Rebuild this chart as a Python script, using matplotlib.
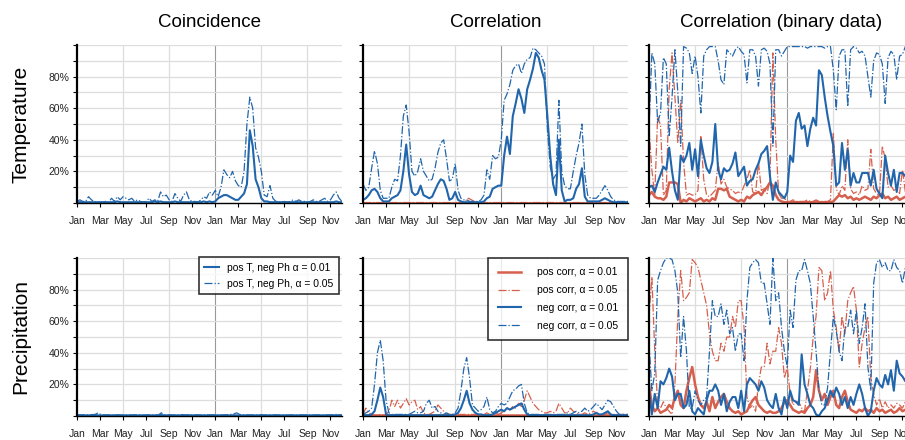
import numpy as np
import matplotlib
matplotlib.use("Agg")
import matplotlib.pyplot as plt

# ---------------- data (percent, sampled every quarter month, Jan yr1 .. Dec 1 yr2) ----------------
month_labels = ["Jan", "Mar", "May", "Jul", "Sep", "Nov", "Jan", "Mar", "May", "Jul", "Sep", "Nov"]
col_titles = ["Coincidence", "Correlation", "Correlation (binary data)"]
row_titles = ["Temperature", "Precipitation"]

# Coincidence / Temperature
coin_T_01 = [0.5,0.5,0.5,0.5, 0.5,0.5,0.5,0.5, 0.5,0.5,0.5,0.5, 0.5,0.5,1,0.5,
             0.5,0.5,0.5,0.5, 0.5,0.5,0.5,0.5, 0.5,0.5,0.5,1, 0.5,1,0.5,0.5,
             0.5,0.5,1,0.5, 0.5,0.5,0.5,0.5, 0.5,0.5,0.5,0.5, 1,0.5,1,0.5,
             1,3,4,5, 5,4,3,2, 2,4,6,12, 46,36,15,10, 3,1,1,0.5,
             0.5,0.5,0.5,0.5, 0.5,0.5,0.5,0.5, 0.5,0.5,0.5,0.5, 0.5,0.5,0.5,0.5,
             0.5,0.5,0.5,0.5, 0.5,0.5,1,0.5, 0.5]
coin_T_05 = [1,2,1,1, 4,2,1,0.5, 0.5,0.5,1,0.5, 3,1,4,2, 4,3,2,3, 1,2,1,0.5,
             1,3,1,2, 1,7,4,5, 2,1,6,3, 1,5,7,2, 1,1,0.5,2, 4,3,7,5,
             8,4,10,21, 18,16,20,14, 11,10,20,50, 67,60,35,29, 20,5,4,11,
             3,1,1,0.5, 1,0.5,1,2, 1,2,1,1, 0.5,1,2,1, 1,2,3,1, 2,5,7,3, 1]

# Coincidence / Precipitation
coin_P_01 = [0.4,0.4,0.5,0.4, 0.4,0.5,0.6,0.4, 0.4,0.4,0.4,0.4, 0.4,0.5,0.4,0.4,
             0.4,0.4,0.4,0.4, 0.4,0.4,0.4,0.4, 0.4,0.4,0.4,0.4, 0.6,0.4,0.4,0.4,
             0.4,0.4,0.4,0.4, 0.4,0.5,0.4,0.4, 0.4,0.4,0.4,0.4, 0.4,0.4,0.4,0.4,
             0.4,0.4,0.4,0.4, 0.5,0.4,0.4,0.4, 0.4,0.4,0.4,0.4, 0.4,0.4,0.4,0.4,
             0.4,0.4,0.4,0.4, 0.4,0.4,0.4,0.4, 0.4,0.4,0.4,0.4, 0.4,0.4,0.4,0.4,
             0.4,0.4,0.4,0.4, 0.4,0.4,0.4,0.5, 0.4]
coin_P_05 = [0.6,0.7,0.6,0.8, 0.7,0.9,1.0,2.0, 0.8,0.6,0.7,0.6, 0.6,0.7,0.6,0.6,
             0.7,0.6,0.6,0.7, 0.6,0.7,0.6,0.6, 0.7,0.6,0.7,0.6, 2.0,0.8,0.6,0.7,
             0.6,0.7,0.6,0.9, 0.6,0.7,0.6,0.6, 0.7,0.6,0.6,0.7, 0.6,0.7,0.6,0.6,
             0.6,0.7,0.8,1.0, 1.3,2.0,1.0,0.7, 0.6,0.7,0.6,0.7, 0.6,0.8,0.6,0.6,
             0.7,0.6,0.7,0.6, 0.6,0.7,0.6,0.6, 0.7,0.6,0.6,0.7, 0.6,0.7,0.6,0.6,
             0.7,0.6,0.6,0.7, 0.6,0.8,1.0,0.7, 0.6]

# Correlation / Temperature
corr_T_pos01 = [0.3] * 93
corr_T_pos05 = [0.3,0.3,0.3,0.3, 0.3,0.3,0.3,0.3, 0.3,0.3,0.3,0.3, 0.3,0.3,0.3,0.3,
                0.3,0.3,0.3,0.3, 0.3,0.3,0.3,0.3, 0.3,0.3,0.3,0.3, 0.3,0.3,0.3,0.3,
                0.3,0.3,1,3, 2,1,0.3,0.3, 0.3,0.3,0.3,0.3, 0.3,0.3,0.3,0.3,
                0.3,0.3,0.3,0.3, 0.3,0.3,0.3,0.3, 0.3,0.3,0.3,0.3, 0.3,0.3,0.3,0.3,
                0.3,0.3,0.3,0.3, 0.3,0.3,0.3,0.3, 0.3,0.3,0.3,0.3, 0.3,0.3,0.3,0.3,
                0.3,0.3,0.3,0.3, 0.3,0.3,0.3,0.3, 0.3]
corr_T_neg01 = [2,3,5,8, 9,7,3,1, 1,1,3,4, 5,8,20,37, 18,7,5,6, 11,5,4,3,
                4,8,12,15, 14,9,2,3, 7,2,1,0.5, 0.5,0.5,0.5,0.5, 0.5,0.5,1,3,
                4,9,10,11, 11,30,42,31, 55,63,72,66, 57,72,78,85, 95,92,84,78,
                55,30,12,5, 40,8,1,2, 2,3,9,12, 22,4,1,1, 1,1,1,2, 3,2,1,0.5,
                0.5,0.5,0.5,0.5, 0.5]
corr_T_neg05 = [12,8,10,22, 33,25,8,3, 3,3,10,15, 14,30,55,62, 45,20,17,20,
                28,20,17,14, 15,22,32,38, 40,28,14,15, 25,8,3,2, 2,1,1,1,
                1,2,5,21, 15,30,28,29, 40,65,69,75, 84,87,88,82, 88,91,92,98,
                97,95,93,88, 47,23,15,18, 65,20,11,9, 9,20,30,38, 50,18,5,3,
                3,3,5,8, 11,8,4,2, 1,1,1,1, 1]

# Correlation / Precipitation
corr_P_pos01 = [0.5] * 93
corr_P_pos05 = [1,5,2,1, 0.5,0.5,1,0.5, 1,3,10,6, 10,5,8,11, 7,9,10,4, 6,2,1,1,
                2,3,7,5, 3,1,1,1, 1,1,1,1, 1,1,1,1, 1,1,1,2, 1,1,2,1,
                2,3,5,4, 6,5,8,6, 10,16,12,8, 6,4,3,2, 2,3,2,3, 8,5,2,2,
                5,3,2,1, 1,2,1,2, 3,2,1,1, 1,2,1,1, 1,1,1,1, 1]
corr_P_neg01 = [0.5,0.5,0.5,1, 3,10,18,12, 1,0.5,0.5,0.5, 0.5,0.5,0.5,0.5,
                0.5,0.5,0.5,0.5, 0.5,0.5,0.5,0.5, 0.5,0.5,0.5,0.5, 0.5,0.5,0.5,0.5,
                1,2,5,10, 16,8,4,2, 1,1,0.5,0.5, 0.5,1,2,3, 4,3,5,4, 5,6,7,8,
                4,1,0.5,0.5, 0.5,0.5,0.5,0.5, 0.5,0.5,0.5,0.5, 0.5,0.5,0.5,0.5,
                0.5,0.5,0.5,0.5, 0.5,0.5,0.5,0.5, 1,2,1,1, 2,3,1,0.5,
                0.5,0.5,0.5,0.5, 0.5]
corr_P_neg05 = [1,2,3,5, 20,40,48,35, 10,2,1,1, 1,1,1,1, 1,2,3,2, 2,3,8,10,
                5,6,3,2, 1,2,1,1, 2,5,16,30, 37,24,7,5, 3,4,6,12, 4,2,3,6,
                8,7,8,12, 16,17,19,20, 8,2,1,1, 1,1,0.5,1, 1,1,1,1, 1,1,1,2,
                1,2,3,2, 3,5,3,4, 6,8,6,4, 7,10,9,6, 3,1,1,1, 1]

# Correlation (binary data) / Temperature
bin_T_pos01 = [5,7,4,3, 3,2,4,13, 13,13,12,0, 2,1,3,2, 1,2,3,1, 2,1,3,2,
               9,9,8,9, 4,3,2,1, 2,1,4,3, 5,6,7,5, 8,10,13,11, 5,2,1,0.5,
               0.5,0.5,0.5,0.5, 0.5,0.5,0.5,0.5, 0.5,0.5,1,0.5, 0.5,0.5,0.5,0.5,
               1,3,5,4, 5,3,4,2, 3,2,3,4, 3,2,4,3, 5,6,3,4, 2,3,4,2, 3,4,2,3, 2]
bin_T_pos05 = [47,21,5,55, 49,5,8,72, 95,67,38,65, 26,5,6,5, 5,8,42,15,
               5,4,6,8, 26,12,15,10, 9,8,6,7, 6,11,15,21, 7,6,26,8,
               9,6,15,95, 40,6,3,3, 1,1,2,1, 1,1,1,2, 1,1,2,1, 1,1,1,2,
               44,9,5,11, 8,40,9,6, 7,5,11,8, 9,34,9,6, 5,36,28,10,
               11,8,9,6, 21,7,9,8, 6]
bin_T_neg01 = [10,11,7,13, 18,23,21,35, 20,8,2,30, 26,30,38,21, 34,17,40,30,
               22,19,26,50, 21,15,22,20, 21,25,32,17, 20,23,11,14, 15,21,25,31,
               33,36,17,2, 13,7,5,3, 7,30,26,52, 57,47,49,36, 47,54,49,84,
               81,67,55,45, 36,11,13,38, 21,34,11,19, 13,13,19,19, 19,11,21,9,
               6,3,30,19, 11,21,7,19, 19,17,15,18, 16]
bin_T_neg05 = [47,95,88,51, 57,92,88,42, 67,97,70,36, 99,98,95,82, 93,80,57,93,
               97,99,99,99, 90,78,75,97, 95,93,97,99, 96,94,76,97, 97,93,74,97,
               98,96,88,36, 97,97,93,96, 99,99,99,99, 99,99,99,98, 99,99,99,99,
               99,98,99,99, 84,59,93,97, 97,61,97,99, 98,95,96,93, 80,67,90,95,
               94,88,63,92, 96,94,78,93, 94,99,96,98, 97]

# Correlation (binary data) / Precipitation
bin_P_pos01 = [20,7,3,5, 2,3,4,7, 5,12,16,7, 5,16,24,31, 20,12,7,5, 9,3,12,5,
               9,12,14,9, 5,3,2,3, 1,2,3,7, 10,12,7,5, 3,2,3,2, 2,3,5,9,
               10,7,4,3, 2,3,2,5, 7,12,29,16, 10,14,7,12, 16,7,5,12, 16,9,4,3,
               2,4,3,5, 3,4,2,5, 3,4,2,3, 4,2,3,5, 3,4,2,3, 3]
bin_P_pos05 = [63,88,41,7, 5,9,5,3, 1,20,63,92, 73,75,78,99, 97,94,86,78,
               70,52,41,35, 35,46,41,50, 50,63,56,73, 73,56,12,5, 7,3,20,31,
               31,46,33,41, 41,56,46,24, 31,14,7,9, 9,5,3,16, 30,50,63,94,
               92,73,78,92, 67,56,41,63, 52,73,78,82, 67,31,46,56, 63,24,14,7,
               11,5,9,5, 7,5,8,7, 5,9,7,8, 6]
bin_P_neg01 = [16,1,14,5, 22,20,24,30, 25,10,14,14, 5,7,16,3, 1,5,3,1,
               10,16,16,20, 16,7,14,3, 9,12,12,5, 16,3,20,24, 22,20,16,22,
               18,10,7,5, 14,5,1,12, 5,16,10,9, 7,39,20,14, 7,5,1,0,
               3,5,10,16, 12,18,14,7, 12,5,12,7, 14,20,14,5, 0,3,16,24,
               20,18,26,20, 29,16,35,27, 25,22,30,18, 20]
bin_P_neg05 = [46,16,27,86, 92,97,100,100, 99,92,78,37, 63,41,5,5, 16,10,7,10,
               12,41,73,63, 63,71,58,67, 52,56,41,52, 52,35,73,94, 97,99,97,84,
               84,71,58,100, 73,78,56,41, 31,67,56,86, 92,92,99,92, 84,63,41,16,
               7,7,18,41, 63,54,41,35, 56,56,67,52, 67,46,56,71, 31,16,84,97,
               99,94,97,92, 92,99,94,92, 84,94,90,88, 85]

# ---------------- styling ----------------
BLUE = "#2166ac"
RED = "#d6604d"
N_MONTHS = 23

plt.rcParams["font.family"] = ["Liberation Sans", "DejaVu Sans"]

fig = plt.figure(figsize=(9.05, 4.40), dpi=100)
W, H = 905.0, 440.0
col_left = [77, 363, 649]
ax_w = 265
row_top = [45, 258]
ax_h = 158

def make_ax(r, c):
    l = col_left[c] / W
    b = 1 - (row_top[r] + ax_h) / H
    return fig.add_axes([l, b, ax_w / W, ax_h / H])

def xs(vals):
    return np.linspace(0, N_MONTHS, len(vals))

def style(ax, show_ylabels):
    ax.set_xlim(0, N_MONTHS)
    ax.set_ylim(0, 100)
    for s in ["top", "right"]:
        ax.spines[s].set_visible(False)
    ax.spines["left"].set_linewidth(1.6)
    ax.spines["bottom"].set_linewidth(1.0)
    ax.spines["left"].set_color("black")
    ax.spines["bottom"].set_color("black")
    ax.set_yticks(np.arange(0, 101, 10))
    if show_ylabels:
        ax.set_yticklabels(["" if v in (0, 100) or v % 20 else f"{v}%" for v in range(0, 101, 10)])
    else:
        ax.set_yticklabels([])
    ax.set_xticks(np.arange(0, 23, 2))
    ax.set_xticklabels(month_labels)
    ax.tick_params(axis="both", direction="out", length=3, width=0.8, labelsize=7.5,
                   labelcolor="#222222", pad=2.5)
    ax.tick_params(axis="x", pad=6)
    ax.yaxis.grid(True, color="#dddddd", linewidth=0.9)
    for gx in (4, 8, 16, 20):
        ax.axvline(gx, color="#dddddd", linewidth=0.9, zorder=0)
    ax.axvline(12, color="#999999", linewidth=0.8, zorder=0)
    ax.set_axisbelow(True)

axes = [[make_ax(r, c) for c in range(3)] for r in range(2)]

# Coincidence
for r, (s01, s05) in enumerate([(coin_T_01, coin_T_05), (coin_P_01, coin_P_05)]):
    ax = axes[r][0]
    ax.plot(xs(s01), s01, color=BLUE, lw=1.5, label="pos T, neg Ph \u03b1 = 0.01")
    ax.plot(xs(s05), s05, color=BLUE, lw=0.9, ls="-.", label="pos T, neg Ph, \u03b1 = 0.05")

# Correlation and binary
sets = {
    (0, 1): (corr_T_pos01, corr_T_pos05, corr_T_neg01, corr_T_neg05),
    (1, 1): (corr_P_pos01, corr_P_pos05, corr_P_neg01, corr_P_neg05),
    (0, 2): (bin_T_pos01, bin_T_pos05, bin_T_neg01, bin_T_neg05),
    (1, 2): (bin_P_pos01, bin_P_pos05, bin_P_neg01, bin_P_neg05),
}
for (r, c), (p01, p05, n01, n05) in sets.items():
    ax = axes[r][c]
    ax.plot(xs(p01), p01, color=RED, lw=1.8, label="pos corr, \u03b1 = 0.01")
    ax.plot(xs(p05), p05, color=RED, lw=0.9, ls="-.", label="pos corr, \u03b1 = 0.05")
    ax.plot(xs(n01), n01, color=BLUE, lw=1.5, label="neg corr, \u03b1 = 0.01")
    ax.plot(xs(n05), n05, color=BLUE, lw=0.9, ls="-.", label="neg corr, \u03b1 = 0.05")

for r in range(2):
    for c in range(3):
        style(axes[r][c], c == 0)

for c, t in enumerate(col_titles):
    axes[0][c].set_title(t, fontsize=13.5, pad=13)

for r, t in enumerate(row_titles):
    yc = 1 - (row_top[r] + ax_h / 2) / H
    fig.text(21 / W, yc, t, rotation=90, fontsize=15, ha="center", va="center")

leg1 = axes[1][0].legend(loc="upper right", bbox_to_anchor=(0.988, 1.005), fontsize=7.4,
                         frameon=True, fancybox=False, edgecolor="black", handlelength=1.4,
                         borderaxespad=0.0, labelspacing=0.55, borderpad=0.55, handletextpad=0.8)
leg1.get_frame().set_linewidth(1.2)
leg2 = axes[1][1].legend(loc="upper right", fontsize=7.5, frameon=True, fancybox=False,
                         edgecolor="black", handlelength=2.2, borderaxespad=0.0,
                         labelspacing=0.75, borderpad=0.9, handletextpad=1.6)
leg2.get_frame().set_linewidth(1.2)

fig.savefig("out.png", dpi=100)
